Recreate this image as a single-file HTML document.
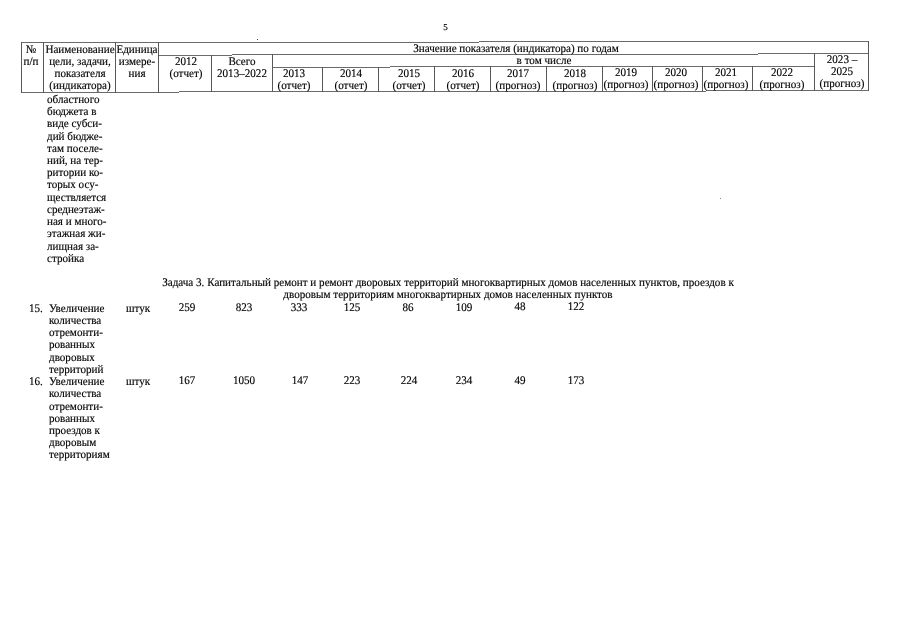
<!DOCTYPE html>
<html><head><meta charset="utf-8"><style>
html,body{margin:0;padding:0;background:#fff;width:905px;height:640px;overflow:hidden}
#pg{position:absolute;left:0;top:0;width:905px;height:640px;filter:grayscale(1)}
.t{position:absolute;font-family:"Liberation Serif",serif;line-height:12.2px;white-space:nowrap;color:#000;-webkit-text-stroke:0.15px #000;transform-origin:left top;text-rendering:geometricPrecision}
.c{text-align:center;transform-origin:center top}
.l{position:absolute}
</style></head><body><div id="pg">
<div class="l" style="left:21px;top:42px;width:458px;height:1px;background:#6a6a6a"></div>
<div class="l" style="left:479px;top:41px;width:390px;height:1px;background:#6a6a6a"></div>
<div class="l" style="left:159px;top:55px;width:73px;height:1px;background:#6a6a6a"></div>
<div class="l" style="left:232px;top:54px;width:526px;height:1px;background:#6a6a6a"></div>
<div class="l" style="left:758px;top:53px;width:111px;height:1px;background:#6a6a6a"></div>
<div class="l" style="left:272px;top:67px;width:118px;height:1px;background:#6a6a6a"></div>
<div class="l" style="left:390px;top:66px;width:425px;height:1px;background:#6a6a6a"></div>
<div class="l" style="left:21px;top:92px;width:158px;height:1px;background:#6a6a6a"></div>
<div class="l" style="left:179px;top:91px;width:527px;height:1px;background:#6a6a6a"></div>
<div class="l" style="left:706px;top:90px;width:163px;height:1px;background:#6a6a6a"></div>
<div class="l" style="left:21px;top:42px;width:1px;height:51px;background:#585858"></div>
<div class="l" style="left:43px;top:42px;width:1px;height:51px;background:#585858"></div>
<div class="l" style="left:115px;top:42px;width:1px;height:51px;background:#585858"></div>
<div class="l" style="left:158px;top:42px;width:1px;height:51px;background:#585858"></div>
<div class="l" style="left:211px;top:55px;width:1px;height:37px;background:#585858"></div>
<div class="l" style="left:272px;top:54px;width:1px;height:38px;background:#585858"></div>
<div class="l" style="left:322px;top:67px;width:1px;height:25px;background:#585858"></div>
<div class="l" style="left:378px;top:67px;width:1px;height:25px;background:#585858"></div>
<div class="l" style="left:434px;top:66px;width:1px;height:26px;background:#585858"></div>
<div class="l" style="left:490px;top:66px;width:1px;height:26px;background:#585858"></div>
<div class="l" style="left:546px;top:66px;width:1px;height:26px;background:#585858"></div>
<div class="l" style="left:602px;top:66px;width:1px;height:26px;background:#585858"></div>
<div class="l" style="left:652px;top:66px;width:1px;height:26px;background:#585858"></div>
<div class="l" style="left:702px;top:66px;width:1px;height:26px;background:#585858"></div>
<div class="l" style="left:752px;top:66px;width:1px;height:25px;background:#585858"></div>
<div class="l" style="left:814px;top:53px;width:1px;height:38px;background:#585858"></div>
<div class="l" style="left:868px;top:41px;width:1px;height:50px;background:#585858"></div>
<div class="t c" style="left:-168.90px;width:400px;top:43px;font-size:11.6px;transform:translateY(0.78px) scaleX(0.957)">№</div>
<div class="t c" style="left:-168.90px;width:400px;top:55px;font-size:11.6px;transform:translateY(0.98px) scaleX(0.957)">п/п</div>
<div class="t c" style="left:-120.35px;width:400px;top:44px;font-size:11.6px;transform:translateY(0.39px) scaleX(0.957)">Наименование</div>
<div class="t c" style="left:-120.35px;width:400px;top:56px;font-size:11.6px;transform:translateY(0.39px) scaleX(0.957)">цели, задачи,</div>
<div class="t c" style="left:-120.35px;width:400px;top:68px;font-size:11.6px;transform:translateY(0.39px) scaleX(0.957)">показателя</div>
<div class="t c" style="left:-120.35px;width:400px;top:80px;font-size:11.6px;transform:translateY(0.39px) scaleX(0.957)">(индикатора)</div>
<div class="t c" style="left:-63.20px;width:400px;top:43px;font-size:11.6px;transform:translateY(0.78px) scaleX(0.957)">Единица</div>
<div class="t c" style="left:-63.20px;width:400px;top:56px;font-size:11.6px;transform:translateY(0.48px) scaleX(0.957)">измере-</div>
<div class="t c" style="left:-63.20px;width:400px;top:67px;font-size:11.6px;transform:translateY(0.78px) scaleX(0.957)">ния</div>
<div class="t c" style="left:315.50px;width:400px;top:42px;font-size:11.6px;transform:translateY(0.56px) scaleX(0.957)">Значение показателя (индикатора) по годам</div>
<div class="t c" style="left:343.50px;width:400px;top:54px;font-size:11.6px;transform:translateY(0.91px) scaleX(0.957)">в том числе</div>
<div class="t c" style="left:-14.30px;width:400px;top:56px;font-size:11.6px;transform:translateY(0.29px) scaleX(0.957)">2012</div>
<div class="t c" style="left:-14.30px;width:400px;top:67px;font-size:11.6px;transform:translateY(0.89px) scaleX(0.957)">(отчет)</div>
<div class="t c" style="left:42.25px;width:400px;top:55px;font-size:11.6px;transform:translateY(0.78px) scaleX(0.957)">Всего</div>
<div class="t c" style="left:42.25px;width:400px;top:67px;font-size:11.6px;transform:translateY(0.68px) scaleX(0.957)">2013–2022</div>
<div class="t c" style="left:94.35px;width:400px;top:68px;font-size:11.6px;transform:translateY(0.08px) scaleX(0.957)">2013</div>
<div class="t c" style="left:94.35px;width:400px;top:80px;font-size:11.6px;transform:translateY(0.08px) scaleX(0.957)">(отчет)</div>
<div class="t c" style="left:151.10px;width:400px;top:67px;font-size:11.6px;transform:translateY(0.97px) scaleX(0.957)">2014</div>
<div class="t c" style="left:151.10px;width:400px;top:79px;font-size:11.6px;transform:translateY(0.97px) scaleX(0.957)">(отчет)</div>
<div class="t c" style="left:208.75px;width:400px;top:67px;font-size:11.6px;transform:translateY(0.86px) scaleX(0.957)">2015</div>
<div class="t c" style="left:208.75px;width:400px;top:79px;font-size:11.6px;transform:translateY(0.86px) scaleX(0.957)">(отчет)</div>
<div class="t c" style="left:263.05px;width:400px;top:67px;font-size:11.6px;transform:translateY(0.76px) scaleX(0.957)">2016</div>
<div class="t c" style="left:263.05px;width:400px;top:79px;font-size:11.6px;transform:translateY(0.76px) scaleX(0.957)">(отчет)</div>
<div class="t c" style="left:317.75px;width:400px;top:67px;font-size:11.6px;transform:translateY(0.66px) scaleX(0.957)">2017</div>
<div class="t c" style="left:317.75px;width:400px;top:79px;font-size:11.6px;transform:translateY(0.66px) scaleX(0.957)">(прогноз)</div>
<div class="t c" style="left:374.75px;width:400px;top:67px;font-size:11.6px;transform:translateY(0.55px) scaleX(0.957)">2018</div>
<div class="t c" style="left:374.75px;width:400px;top:79px;font-size:11.6px;transform:translateY(0.55px) scaleX(0.957)">(прогноз)</div>
<div class="t c" style="left:425.75px;width:400px;top:67px;font-size:11.6px;transform:translateY(0.45px) scaleX(0.957)">2019</div>
<div class="t c" style="left:425.75px;width:400px;top:79px;font-size:11.6px;transform:translateY(0.45px) scaleX(0.957)">(прогноз)</div>
<div class="t c" style="left:475.70px;width:400px;top:67px;font-size:11.6px;transform:translateY(0.36px) scaleX(0.957)">2020</div>
<div class="t c" style="left:475.70px;width:400px;top:79px;font-size:11.6px;transform:translateY(0.36px) scaleX(0.957)">(прогноз)</div>
<div class="t c" style="left:526.30px;width:400px;top:67px;font-size:11.6px;transform:translateY(0.26px) scaleX(0.957)">2021</div>
<div class="t c" style="left:526.30px;width:400px;top:79px;font-size:11.6px;transform:translateY(0.26px) scaleX(0.957)">(прогноз)</div>
<div class="t c" style="left:582.05px;width:400px;top:67px;font-size:11.6px;transform:translateY(0.15px) scaleX(0.957)">2022</div>
<div class="t c" style="left:582.05px;width:400px;top:79px;font-size:11.6px;transform:translateY(0.15px) scaleX(0.957)">(прогноз)</div>
<div class="t c" style="left:642.00px;width:400px;top:54px;font-size:11.6px;transform:translateY(0.34px) scaleX(0.957)">2023 –</div>
<div class="t c" style="left:642.00px;width:400px;top:66px;font-size:11.6px;transform:translateY(0.34px) scaleX(0.957)">2025</div>
<div class="t c" style="left:642.00px;width:400px;top:78px;font-size:11.6px;transform:translateY(0.24px) scaleX(0.957)">(прогноз)</div>
<div class="t" style="left:47.10px;top:93px;font-size:11.6px;transform:translateY(0.89px) scaleX(0.957)">областного</div>
<div class="t" style="left:47.10px;top:106px;font-size:11.6px;transform:translateY(0.11px) scaleX(0.957)">бюджета в</div>
<div class="t" style="left:47.10px;top:118px;font-size:11.6px;transform:translateY(0.33px) scaleX(0.957)">виде субси-</div>
<div class="t" style="left:47.10px;top:130px;font-size:11.6px;transform:translateY(0.55px) scaleX(0.957)">дий бюдже-</div>
<div class="t" style="left:47.10px;top:142px;font-size:11.6px;transform:translateY(0.77px) scaleX(0.957)">там поселе-</div>
<div class="t" style="left:47.10px;top:154px;font-size:11.6px;transform:translateY(0.99px) scaleX(0.957)">ний, на тер-</div>
<div class="t" style="left:47.10px;top:167px;font-size:11.6px;transform:translateY(0.21px) scaleX(0.957)">ритории ко-</div>
<div class="t" style="left:47.10px;top:179px;font-size:11.6px;transform:translateY(0.43px) scaleX(0.957)">торых осу-</div>
<div class="t" style="left:47.10px;top:191px;font-size:11.6px;transform:translateY(0.65px) scaleX(0.957)">ществляется</div>
<div class="t" style="left:47.10px;top:203px;font-size:11.6px;transform:translateY(0.87px) scaleX(0.957)">среднеэтаж-</div>
<div class="t" style="left:47.10px;top:216px;font-size:11.6px;transform:translateY(0.09px) scaleX(0.957)">ная и много-</div>
<div class="t" style="left:47.10px;top:228px;font-size:11.6px;transform:translateY(0.31px) scaleX(0.957)">этажная жи-</div>
<div class="t" style="left:47.10px;top:240px;font-size:11.6px;transform:translateY(0.53px) scaleX(0.957)">лищная за-</div>
<div class="t" style="left:47.10px;top:252px;font-size:11.6px;transform:translateY(0.75px) scaleX(0.957)">стройка</div>
<div class="t c" style="left:-2.50px;width:900px;top:276px;font-size:11.6px;transform:translateY(0.99px) scaleX(0.957)">Задача 3. Капитальный ремонт и ремонт дворовых территорий многоквартирных домов населенных пунктов, проездов к</div>
<div class="t c" style="left:247.50px;width:400px;top:289px;font-size:11.6px;transform:translateY(0.19px) scaleX(0.957)">дворовым территориям многоквартирных домов населенных пунктов</div>
<div class="t" style="left:29.20px;top:302px;font-size:11.6px;transform:translateY(0.93px) scaleX(0.957)">15.</div>
<div class="t" style="left:49.00px;top:302px;font-size:11.6px;transform:translateY(0.89px) scaleX(0.957)">Увеличение</div>
<div class="t" style="left:49.00px;top:315px;font-size:11.6px;transform:translateY(0.09px) scaleX(0.957)">количества</div>
<div class="t" style="left:49.00px;top:327px;font-size:11.6px;transform:translateY(0.29px) scaleX(0.957)">отремонти-</div>
<div class="t" style="left:49.00px;top:339px;font-size:11.6px;transform:translateY(0.49px) scaleX(0.957)">рованных</div>
<div class="t" style="left:49.00px;top:351px;font-size:11.6px;transform:translateY(0.69px) scaleX(0.957)">дворовых</div>
<div class="t" style="left:49.00px;top:363px;font-size:11.6px;transform:translateY(0.89px) scaleX(0.957)">территорий</div>
<div class="t" style="left:126.40px;top:302px;font-size:11.6px;transform:translateY(0.54px) scaleX(0.957)">штук</div>
<div class="t c" style="left:-13.00px;width:400px;top:302px;font-size:11.6px;transform:translateY(0.08px) scaleX(0.957)">259</div>
<div class="t c" style="left:43.50px;width:400px;top:301px;font-size:11.6px;transform:translateY(0.98px) scaleX(0.957)">823</div>
<div class="t c" style="left:98.50px;width:400px;top:301px;font-size:11.6px;transform:translateY(0.87px) scaleX(0.957)">333</div>
<div class="t c" style="left:152.00px;width:400px;top:301px;font-size:11.6px;transform:translateY(0.77px) scaleX(0.957)">125</div>
<div class="t c" style="left:208.20px;width:400px;top:301px;font-size:11.6px;transform:translateY(0.66px) scaleX(0.957)">86</div>
<div class="t c" style="left:264.00px;width:400px;top:301px;font-size:11.6px;transform:translateY(0.56px) scaleX(0.957)">109</div>
<div class="t c" style="left:320.00px;width:400px;top:301px;font-size:11.6px;transform:translateY(0.45px) scaleX(0.957)">48</div>
<div class="t c" style="left:376.20px;width:400px;top:301px;font-size:11.6px;transform:translateY(0.35px) scaleX(0.957)">122</div>
<div class="t" style="left:29.20px;top:376px;font-size:11.6px;transform:translateY(0.23px) scaleX(0.957)">16.</div>
<div class="t" style="left:49.00px;top:376px;font-size:11.6px;transform:translateY(0.19px) scaleX(0.957)">Увеличение</div>
<div class="t" style="left:49.00px;top:388px;font-size:11.6px;transform:translateY(0.39px) scaleX(0.957)">количества</div>
<div class="t" style="left:49.00px;top:400px;font-size:11.6px;transform:translateY(0.59px) scaleX(0.957)">отремонти-</div>
<div class="t" style="left:49.00px;top:412px;font-size:11.6px;transform:translateY(0.79px) scaleX(0.957)">рованных</div>
<div class="t" style="left:49.00px;top:424px;font-size:11.6px;transform:translateY(0.99px) scaleX(0.957)">проездов к</div>
<div class="t" style="left:49.00px;top:437px;font-size:11.6px;transform:translateY(0.19px) scaleX(0.957)">дворовым</div>
<div class="t" style="left:49.00px;top:449px;font-size:11.6px;transform:translateY(0.39px) scaleX(0.957)">территориям</div>
<div class="t" style="left:126.40px;top:375px;font-size:11.6px;transform:translateY(0.74px) scaleX(0.957)">штук</div>
<div class="t c" style="left:-12.70px;width:400px;top:375px;font-size:11.6px;transform:translateY(0.28px) scaleX(0.957)">167</div>
<div class="t c" style="left:44.20px;width:400px;top:375px;font-size:11.6px;transform:translateY(0.18px) scaleX(0.957)">1050</div>
<div class="t c" style="left:99.60px;width:400px;top:375px;font-size:11.6px;transform:translateY(0.07px) scaleX(0.957)">147</div>
<div class="t c" style="left:152.00px;width:400px;top:374px;font-size:11.6px;transform:translateY(0.97px) scaleX(0.957)">223</div>
<div class="t c" style="left:209.00px;width:400px;top:374px;font-size:11.6px;transform:translateY(0.86px) scaleX(0.957)">224</div>
<div class="t c" style="left:264.00px;width:400px;top:374px;font-size:11.6px;transform:translateY(0.76px) scaleX(0.957)">234</div>
<div class="t c" style="left:320.00px;width:400px;top:374px;font-size:11.6px;transform:translateY(0.65px) scaleX(0.957)">49</div>
<div class="t c" style="left:376.20px;width:400px;top:374px;font-size:11.6px;transform:translateY(0.55px) scaleX(0.957)">173</div>
<div class="t c" style="left:245.50px;width:400px;top:20px;font-size:9px;transform:translateY(0.99px) scaleX(1)">5</div>
<div class="l" style="left:257px;top:39px;width:1px;height:1px;background:#444"></div><div class="l" style="left:720px;top:198px;width:1px;height:1px;background:#888"></div>
</div></body></html>
